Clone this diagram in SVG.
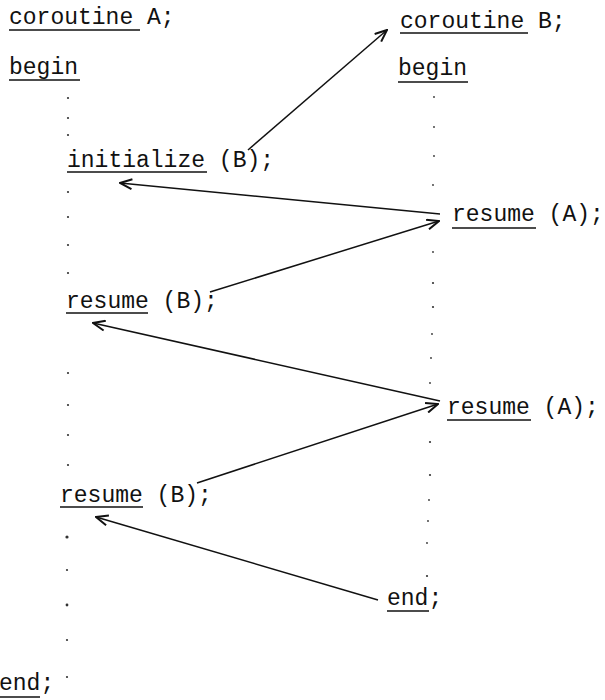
<svg xmlns="http://www.w3.org/2000/svg" width="605" height="700" viewBox="0 0 605 700">
<defs>
<style>
text{font-family:"Liberation Mono","Courier New",monospace;font-size:23px;fill:#111}
.ul{stroke:#111;stroke-width:1.6}
.c{stroke:#111;stroke-width:1.5;fill:none}
.d{fill:#333}
</style>
<marker id="ah" markerUnits="userSpaceOnUse" markerWidth="14" markerHeight="12" viewBox="0 0 14 12" refX="13" refY="6" orient="auto">
<path d="M1,1 L13,6 L1,11" fill="none" stroke="#111" stroke-width="2"/>
</marker>
</defs>
<rect width="605" height="700" fill="#fff"/>
<g id="coroutineA_head"><text x="9" y="24">coroutine A;</text><line class="ul" x1="9" y1="30" x2="140" y2="30"/></g>
<g id="beginA"><text x="9" y="74">begin</text><line class="ul" x1="9" y1="80" x2="80" y2="80"/></g>
<g id="coroutineB_head"><text x="400" y="28">coroutine B;</text><line class="ul" x1="400" y1="33" x2="528" y2="33"/></g>
<g id="beginB"><text x="398" y="75">begin</text><line class="ul" x1="398" y1="82" x2="468" y2="82"/></g>
<g id="initB"><text x="67" y="167">initialize (B);</text><line class="ul" x1="67" y1="172" x2="207" y2="172"/></g>
<g id="resumeA1"><text x="452" y="221">resume (A);</text><line class="ul" x1="452" y1="228" x2="536" y2="228"/></g>
<g id="resumeB1"><text x="66" y="308">resume (B);</text><line class="ul" x1="66" y1="313" x2="148" y2="313"/></g>
<g id="resumeA2"><text x="447" y="414">resume (A);</text><line class="ul" x1="447" y1="420" x2="531" y2="420"/></g>
<g id="resumeB2"><text x="60" y="502">resume (B);</text><line class="ul" x1="60" y1="507" x2="143" y2="507"/></g>
<g id="endB"><text x="387" y="605">end;</text><line class="ul" x1="387" y1="611" x2="429" y2="611"/></g>
<g id="endA"><text x="-1" y="690">end;</text><line class="ul" x1="0" y1="697" x2="40" y2="697"/></g>
<g id="dots">
<circle class="d" cx="68" cy="98" r="1.1"/><circle class="d" cx="68" cy="118" r="1.1"/><circle class="d" cx="68" cy="135" r="1.1"/>
<circle class="d" cx="68" cy="192" r="1.1"/><circle class="d" cx="68" cy="217" r="1.1"/><circle class="d" cx="68" cy="245" r="1.1"/><circle class="d" cx="68" cy="273" r="1.1"/>
<circle class="d" cx="68" cy="373" r="1.1"/><circle class="d" cx="68" cy="405" r="1.1"/><circle class="d" cx="68" cy="435" r="1.1"/><circle class="d" cx="68" cy="465" r="1.1"/>
<circle class="d" cx="67" cy="537" r="1.6"/><circle class="d" cx="67" cy="570" r="1.1"/><circle class="d" cx="67" cy="605" r="1.4"/><circle class="d" cx="67" cy="640" r="1.1"/><circle class="d" cx="67" cy="677" r="1.1"/>
<circle class="d" cx="434" cy="97" r="0.9"/><circle class="d" cx="434" cy="127" r="0.9"/><circle class="d" cx="434" cy="156" r="0.9"/><circle class="d" cx="433" cy="185" r="0.9"/>
<circle class="d" cx="433" cy="252" r="0.9"/><circle class="d" cx="433" cy="283" r="1.1"/><circle class="d" cx="433" cy="307" r="1.1"/><circle class="d" cx="432" cy="334" r="0.9"/><circle class="d" cx="431" cy="358" r="0.9"/><circle class="d" cx="430" cy="383" r="0.9"/>
<circle class="d" cx="430" cy="442" r="1.1"/><circle class="d" cx="430" cy="475" r="1.1"/><circle class="d" cx="429" cy="500" r="0.9"/><circle class="d" cx="428" cy="521" r="0.9"/><circle class="d" cx="427" cy="543" r="0.9"/><circle class="d" cx="427" cy="576" r="1.1"/>
</g>
<g id="connectors">
<line class="c" x1="248" y1="150" x2="387" y2="30" marker-end="url(#ah)"/>
<line class="c" x1="440" y1="214" x2="120" y2="183" marker-end="url(#ah)"/>
<line class="c" x1="210" y1="292" x2="439" y2="221" marker-end="url(#ah)"/>
<line class="c" x1="440" y1="401" x2="93" y2="323" marker-end="url(#ah)"/>
<line class="c" x1="197" y1="483" x2="438" y2="404" marker-end="url(#ah)"/>
<line class="c" x1="378" y1="600" x2="96" y2="517" marker-end="url(#ah)"/>
</g>
</svg>
